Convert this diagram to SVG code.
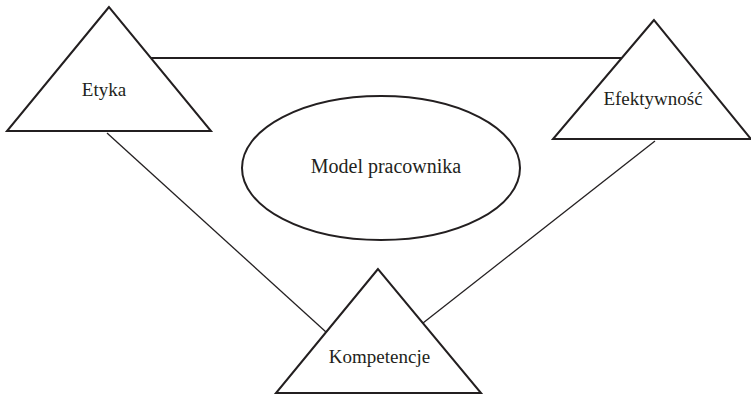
<svg xmlns="http://www.w3.org/2000/svg" width="751" height="395" viewBox="0 0 751 395">
<style>
.shape{fill:#fff;stroke:#231f20;stroke-width:2;stroke-linejoin:miter}
.conn{stroke:#231f20;fill:none}
text{font-family:"Liberation Serif","Times New Roman",serif;fill:#231f20;text-anchor:middle}
</style>
<rect width="751" height="395" fill="#fff"/>
<g id="connectors">
<line class="conn" x1="151" y1="58" x2="622" y2="58" stroke-width="2"/>
<line class="conn" x1="107" y1="133" x2="326" y2="332" stroke-width="1.3"/>
<line class="conn" x1="655" y1="141" x2="423" y2="323" stroke-width="1.3"/>
</g>
<g id="etyka">
<polygon class="shape" points="109,7 7,131 211,131"/>
<text x="104" y="96" font-size="19">Etyka</text>
</g>
<g id="efektywnosc">
<polygon class="shape" points="654,20 553,139 751,139"/>
<text x="653" y="105" font-size="19">Efektywność</text>
</g>
<g id="kompetencje">
<polygon class="shape" points="378,269 276,393 481,393"/>
<text x="379.5" y="363" font-size="19">Kompetencje</text>
</g>
<g id="model">
<ellipse class="shape" cx="381" cy="168" rx="139" ry="72"/>
<text x="386" y="173" font-size="20">Model pracownika</text>
</g>
</svg>
